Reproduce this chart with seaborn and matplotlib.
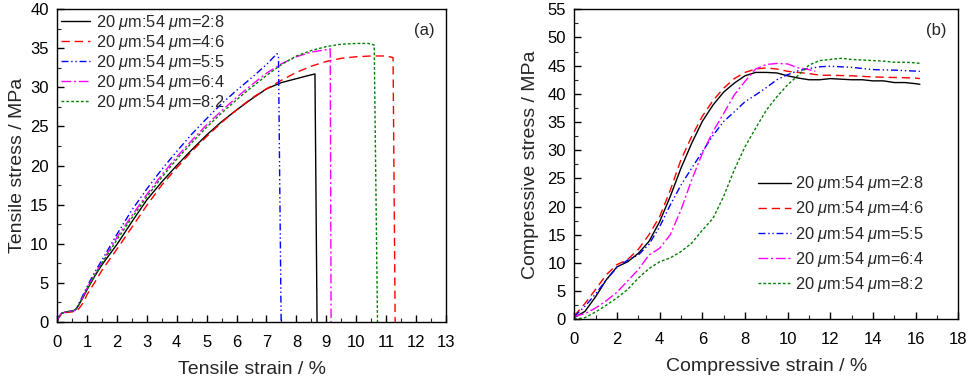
import numpy as np
import pandas as pd
import matplotlib
matplotlib.use("Agg")
import matplotlib.pyplot as plt
from matplotlib.ticker import MultipleLocator
import seaborn as sns

# ---------------- data ----------------
labels = [r"20 $\mu$m:54 $\mu$m=2:8", r"20 $\mu$m:54 $\mu$m=4:6",
          r"20 $\mu$m:54 $\mu$m=5:5", r"20 $\mu$m:54 $\mu$m=6:4",
          r"20 $\mu$m:54 $\mu$m=8:2"]

# Tensile (panel a)
t_x_28 = [0, 0.05, 0.15, 0.3, 0.5, 0.6, 0.7, 0.85, 1.0, 1.25, 1.5, 2.0, 2.5, 3.0, 3.5, 4.0, 4.5,
          5.0, 5.5, 6.0, 6.5, 7.0, 7.5, 8.0, 8.4, 8.62, 8.69]
t_y_28 = [0, 0.6, 1.1, 1.3, 1.4, 1.5, 2.0, 3.0, 4.1, 5.8, 7.3, 9.9, 12.8, 15.6, 17.9, 20.0, 22.0,
          23.9, 25.6, 27.1, 28.5, 29.8, 30.6, 31.1, 31.5, 31.7, 0]
t_x_46 = [0, 0.05, 0.15, 0.3, 0.5, 0.65, 0.75, 0.9, 1.0, 1.25, 1.5, 2.0, 2.5, 3.0, 3.5, 4.0, 4.5,
          5.0, 5.5, 6.0, 6.5, 7.0, 7.5, 8.0, 8.5, 9.0, 9.5, 10.0, 10.5, 11.0, 11.23, 11.3]
t_y_46 = [0, 0.5, 1.0, 1.2, 1.3, 1.4, 1.8, 2.6, 3.5, 5.0, 6.6, 9.3, 12.1, 14.9, 17.5, 19.7, 21.8,
          23.7, 25.5, 27.1, 28.6, 29.8, 30.9, 31.9, 32.7, 33.3, 33.7, 33.9, 34.0, 34.0, 33.8, 0]
t_x_55 = [0, 0.05, 0.15, 0.3, 0.5, 0.6, 0.7, 0.85, 1.0, 1.25, 1.5, 2.0, 2.5, 3.0, 3.5, 4.0, 4.5,
          5.0, 5.5, 6.0, 6.5, 7.0, 7.35, 7.4, 7.49]
t_y_55 = [0, 0.6, 1.1, 1.3, 1.4, 1.5, 2.1, 3.3, 4.5, 6.3, 7.9, 11.2, 14.3, 17.0, 19.5, 21.8, 24.0,
          26.0, 27.9, 29.6, 31.2, 32.9, 34.3, 34.1, 0]
t_x_64 = [0, 0.05, 0.15, 0.3, 0.5, 0.6, 0.7, 0.85, 1.0, 1.25, 1.5, 2.0, 2.5, 3.0, 3.5, 4.0, 4.5,
          5.0, 5.5, 6.0, 6.5, 7.0, 7.5, 8.0, 8.5, 9.0, 9.13, 9.16]
t_y_64 = [0, 0.6, 1.1, 1.3, 1.4, 1.5, 2.0, 3.1, 4.3, 6.0, 7.6, 10.8, 13.6, 16.3, 18.8, 21.1, 23.2,
          25.2, 27.0, 28.7, 30.3, 31.8, 33.0, 33.9, 34.5, 34.8, 34.9, 0]
t_x_82 = [0, 0.05, 0.15, 0.3, 0.5, 0.6, 0.7, 0.85, 1.0, 1.25, 1.5, 2.0, 2.5, 3.0, 3.5, 4.0, 4.5,
          5.0, 5.5, 6.0, 6.5, 7.0, 7.5, 8.0, 8.5, 9.0, 9.5, 10.0, 10.4, 10.6, 10.71]
t_y_82 = [0, 0.6, 1.1, 1.3, 1.4, 1.5, 2.0, 3.1, 4.2, 5.9, 7.5, 10.5, 13.3, 16.0, 18.5, 20.8, 22.9,
          24.9, 26.7, 28.4, 30.0, 31.5, 32.9, 34.0, 34.7, 35.2, 35.5, 35.6, 35.6, 35.4, 0]

# Compressive (panel b)
c_x_28 = [0, 0.5, 1, 1.5, 2, 2.5, 3, 3.5, 4, 4.5, 5, 5.5, 6, 6.5, 7, 7.5, 8, 8.5, 9, 9.5, 10,
          10.5, 11, 11.5, 12, 12.5, 13, 13.5, 14, 14.5, 15, 15.5, 16, 16.2]
c_y_28 = [0.3, 1.4, 4.0, 7.0, 9.3, 10.2, 11.7, 13.8, 17.3, 21.8, 26.8, 31.2, 35.1, 38.0, 40.3,
          41.9, 43.2, 43.8, 43.8, 43.7, 43.2, 42.8, 42.5, 42.5, 42.7, 42.6, 42.5, 42.5, 42.3,
          42.3, 42.0, 42.0, 41.8, 41.7]
c_x_46 = [0, 0.5, 1, 1.5, 2, 2.5, 3, 3.5, 4, 4.5, 5, 5.5, 6, 6.5, 7, 7.5, 8, 8.5, 9, 9.5, 10,
          10.5, 11, 11.5, 12, 13, 14, 15, 16, 16.2]
c_y_46 = [0.6, 2.8, 5.3, 7.9, 9.7, 10.6, 12.4, 15.0, 18.2, 22.9, 28.3, 32.4, 36.0, 38.8, 41.0,
          42.7, 43.8, 44.4, 44.6, 44.4, 44.0, 43.8, 43.6, 43.3, 43.3, 43.2, 43.0, 42.9, 42.8, 42.7]
c_x_55 = [0, 0.5, 1, 1.5, 2, 2.5, 3, 3.5, 4, 4.5, 5, 5.5, 6, 6.5, 7, 7.5, 8, 8.5, 9, 9.5, 10,
          10.5, 11, 11.5, 12, 13, 14, 15, 16.2]
c_y_55 = [0.5, 2.3, 4.5, 7.0, 9.2, 10.5, 11.4, 13.3, 16.4, 20.3, 23.8, 26.8, 29.7, 32.6, 35.1,
          36.8, 38.6, 39.8, 41.1, 42.5, 43.4, 44.1, 44.5, 44.8, 44.9, 44.7, 44.3, 44.2, 44.0]
c_x_64 = [0, 0.5, 1, 1.5, 2, 2.5, 3, 3.5, 4, 4.5, 5, 5.5, 6, 6.5, 7, 7.5, 8, 8.5, 9, 9.5, 10,
          10.5, 11, 11.3]
c_y_64 = [0.5, 1.0, 2.0, 3.3, 4.8, 6.8, 8.8, 11.4, 12.6, 15.0, 19.4, 24.7, 29.4, 33.3, 36.5,
          39.8, 42.2, 44.4, 45.2, 45.4, 45.3, 44.6, 44.3, 44.0]
c_x_82 = [0, 0.5, 1, 1.5, 2, 2.5, 3, 3.5, 4, 4.5, 5, 5.5, 6, 6.5, 7, 7.5, 8, 8.5, 9, 9.5, 10,
          10.5, 11, 11.5, 12, 12.5, 13, 13.5, 14, 14.5, 15, 15.5, 16, 16.2]
c_y_82 = [0.0, 0.3, 1.3, 2.5, 3.8, 5.3, 7.3, 9.0, 10.2, 10.9, 12.0, 13.5, 15.8, 17.9, 21.8,
          26.5, 30.6, 33.9, 37.1, 39.5, 41.6, 43.3, 45.1, 45.9, 46.1, 46.3, 46.1, 46.0, 45.9,
          45.8, 45.6, 45.6, 45.5, 45.4]

# ---------------- style ----------------
sns.set_style("ticks")
plt.rcParams.update({
    "font.family": ["Liberation Sans", "DejaVu Sans"],
    "mathtext.fontset": "custom",
    "mathtext.rm": "Liberation Sans",
    "mathtext.it": "Liberation Sans:italic",
    "xtick.direction": "in",
    "ytick.direction": "in",
    "axes.edgecolor": "black",
    "axes.linewidth": 1.0,
})

colors = ["black", "#ff0000", "#0000ff", "#ff00ff", "#008000"]
styles = ["-", (0, (6, 3.5)), (0, (5, 2, 1, 2, 1, 2)), (0, (7, 2, 1.5, 2)), (0, (2, 1.5))]

fig = plt.figure(figsize=(9.73, 3.76), dpi=100)
axA = fig.add_axes([0.0586, 0.1436, 0.3998, 0.8324])
axB = fig.add_axes([0.5902, 0.1508, 0.3947, 0.8245])

tens = [(t_x_28, t_y_28), (t_x_46, t_y_46), (t_x_55, t_y_55), (t_x_64, t_y_64), (t_x_82, t_y_82)]
comp = [(c_x_28, c_y_28), (c_x_46, c_y_46), (c_x_55, c_y_55), (c_x_64, c_y_64), (c_x_82, c_y_82)]

for (x, y), lab, c, ls in zip(tens, labels, colors, styles):
    sns.lineplot(x=x, y=y, ax=axA, color=c, linestyle=ls, linewidth=1.0,
                 label=lab, sort=False, estimator=None)
for (x, y), lab, c, ls in zip(comp, labels, colors, styles):
    sns.lineplot(x=x, y=y, ax=axB, color=c, linestyle=ls, linewidth=1.0,
                 label=lab, sort=False, estimator=None)

tick_fs = 12
lab_fs = 14
leg_fs = 11.8

axA.set_xlim(0, 13)
axA.set_ylim(0, 40)
axA.xaxis.set_major_locator(MultipleLocator(1))
axA.xaxis.set_minor_locator(MultipleLocator(0.5))
axA.yaxis.set_major_locator(MultipleLocator(5))
axA.yaxis.set_minor_locator(MultipleLocator(2.5))
axA.set_xlabel("Tensile strain / %", fontsize=lab_fs, labelpad=8)
axA.set_ylabel("Tensile stress / MPa", fontsize=lab_fs, labelpad=3)
axA.text(0.97, 0.955, "(a)", transform=axA.transAxes, ha="right", va="top", fontsize=tick_fs)

axB.set_xlim(0, 18)
axB.set_ylim(0, 55)
axB.xaxis.set_major_locator(MultipleLocator(2))
axB.xaxis.set_minor_locator(MultipleLocator(1))
axB.yaxis.set_major_locator(MultipleLocator(5))
axB.yaxis.set_minor_locator(MultipleLocator(2.5))
axB.set_xlabel("Compressive strain / %", fontsize=lab_fs, labelpad=8)
axB.set_ylabel("Compressive stress / MPa", fontsize=lab_fs, labelpad=6)
axB.text(0.97, 0.955, "(b)", transform=axB.transAxes, ha="right", va="top", fontsize=tick_fs)

for ax in (axA, axB):
    ax.tick_params(which="major", length=5, width=1.0, labelsize=tick_fs, colors="black")
    ax.tick_params(which="minor", length=3, width=0.8)
    ax.tick_params(axis="x", which="major", pad=9)
    ax.tick_params(axis="y", which="major", pad=6)
    for s in ax.spines.values():
        s.set_visible(True)
        s.set_linewidth(1.0)

axA.legend(loc="upper left", bbox_to_anchor=(0.0, 1.0), frameon=False, fontsize=leg_fs,
           handlelength=1.75, handletextpad=0.4, labelspacing=0.06, borderpad=0.15,
           borderaxespad=0.1)
axB.legend(loc="upper left", bbox_to_anchor=(0.47, 0.478), frameon=False, fontsize=leg_fs,
           handlelength=2.0, handletextpad=0.25, labelspacing=0.37, borderpad=0.2,
           borderaxespad=0.0)

fig.savefig("out.png", dpi=100)
